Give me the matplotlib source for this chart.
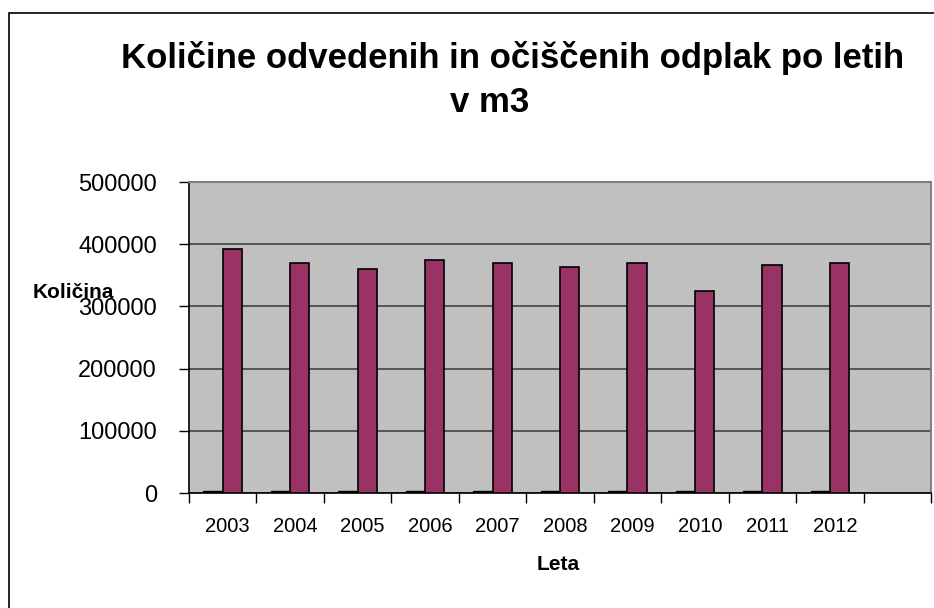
import matplotlib
matplotlib.use("Agg")
import matplotlib.pyplot as plt
import matplotlib.patches as mpatches
import matplotlib.transforms as mtransforms
import numpy as np

categories = ["2003", "2004", "2005", "2006", "2007", "2008", "2009", "2010", "2011", "2012", ""]
odvedene = [2500, 2500, 2500, 2500, 2500, 2500, 2500, 2500, 2500, 2500, np.nan]
ociscene = [392000, 369000, 360500, 375000, 369000, 363500, 369000, 325000, 366500, 369000, np.nan]
yticks = [0, 100000, 200000, 300000, 400000, 500000]
title_lines = ["Količine odvedenih in očiščenih odplak po letih", "v m3"]

plt.rcParams['font.family'] = ['Liberation Sans', 'DejaVu Sans']

W, H = 934, 608
fig = plt.figure(figsize=(W / 100, H / 100), dpi=100)
fig.patch.set_facecolor('white')

# outer chart border
border = mpatches.Rectangle((8.5 / W, -0.1), 1.2, 1 - 13.5 / H + 0.1,
                            transform=fig.transFigure, fill=False,
                            edgecolor='black', linewidth=1.2, clip_on=False)
fig.patches.append(border)

left, right = 189 / W, 931 / W
bottom, top = 1 - 493 / H, 1 - 182 / H
ax = fig.add_axes([left, bottom, right - left, top - bottom])
ax.set_facecolor('#c0c0c0')

x = np.arange(len(categories))
w = 1 / 3.5
ax.bar(x - w / 2, odvedene, width=w, color='black', edgecolor='black', linewidth=1, zorder=3)
ax.bar(x + w / 2, ociscene, width=w, color='#993366', edgecolor='black', linewidth=1.2, zorder=3)

ax.set_xlim(-0.5, len(categories) - 0.5)
ax.set_ylim(0, 500000)

ax.set_yticks(yticks)
ax.set_yticklabels([str(v) for v in yticks], fontsize=17)
ax.yaxis.grid(True, color='#383838', linewidth=1.1, zorder=1)
ax.set_axisbelow(True)

# category boundary ticks, labels at centers
ax.set_xticks(np.arange(len(categories) + 1) - 0.5)
ax.set_xticklabels([])
ax.set_xticks(x, minor=True)
ax.set_xticklabels(categories, minor=True, fontsize=14.5)
ax.tick_params(axis='x', which='minor', length=0, pad=17)
ax.tick_params(axis='x', which='major', length=7, width=1, direction='out', color='black')
ax.tick_params(axis='y', length=7, width=1, direction='out', pad=16, color='black')
offset = mtransforms.ScaledTranslation(5 / 100, 0, fig.dpi_scale_trans)
for lab in ax.xaxis.get_minorticklabels():
    lab.set_transform(lab.get_transform() + offset)

for s in ['top', 'right']:
    ax.spines[s].set_color('#808080')
    ax.spines[s].set_linewidth(1.5)
ax.spines['left'].set_color('black')
ax.spines['bottom'].set_color('black')
ax.spines['left'].set_linewidth(1.2)
ax.spines['bottom'].set_linewidth(1.2)

fig.text(513 / W, 1 - 58 / H, title_lines[0],
         ha='center', va='center', fontsize=25, fontweight='bold')
fig.text(490 / W, 1 - 103 / H, title_lines[1],
         ha='center', va='center', fontsize=25, fontweight='bold')
fig.text(33 / W, 1 - 292 / H, "Količina", ha='left', va='center', fontsize=15, fontweight='bold')
fig.text(558 / W, 1 - 564 / H, "Leta", ha='center', va='center', fontsize=15, fontweight='bold')

fig.savefig("out.png", dpi=100)
